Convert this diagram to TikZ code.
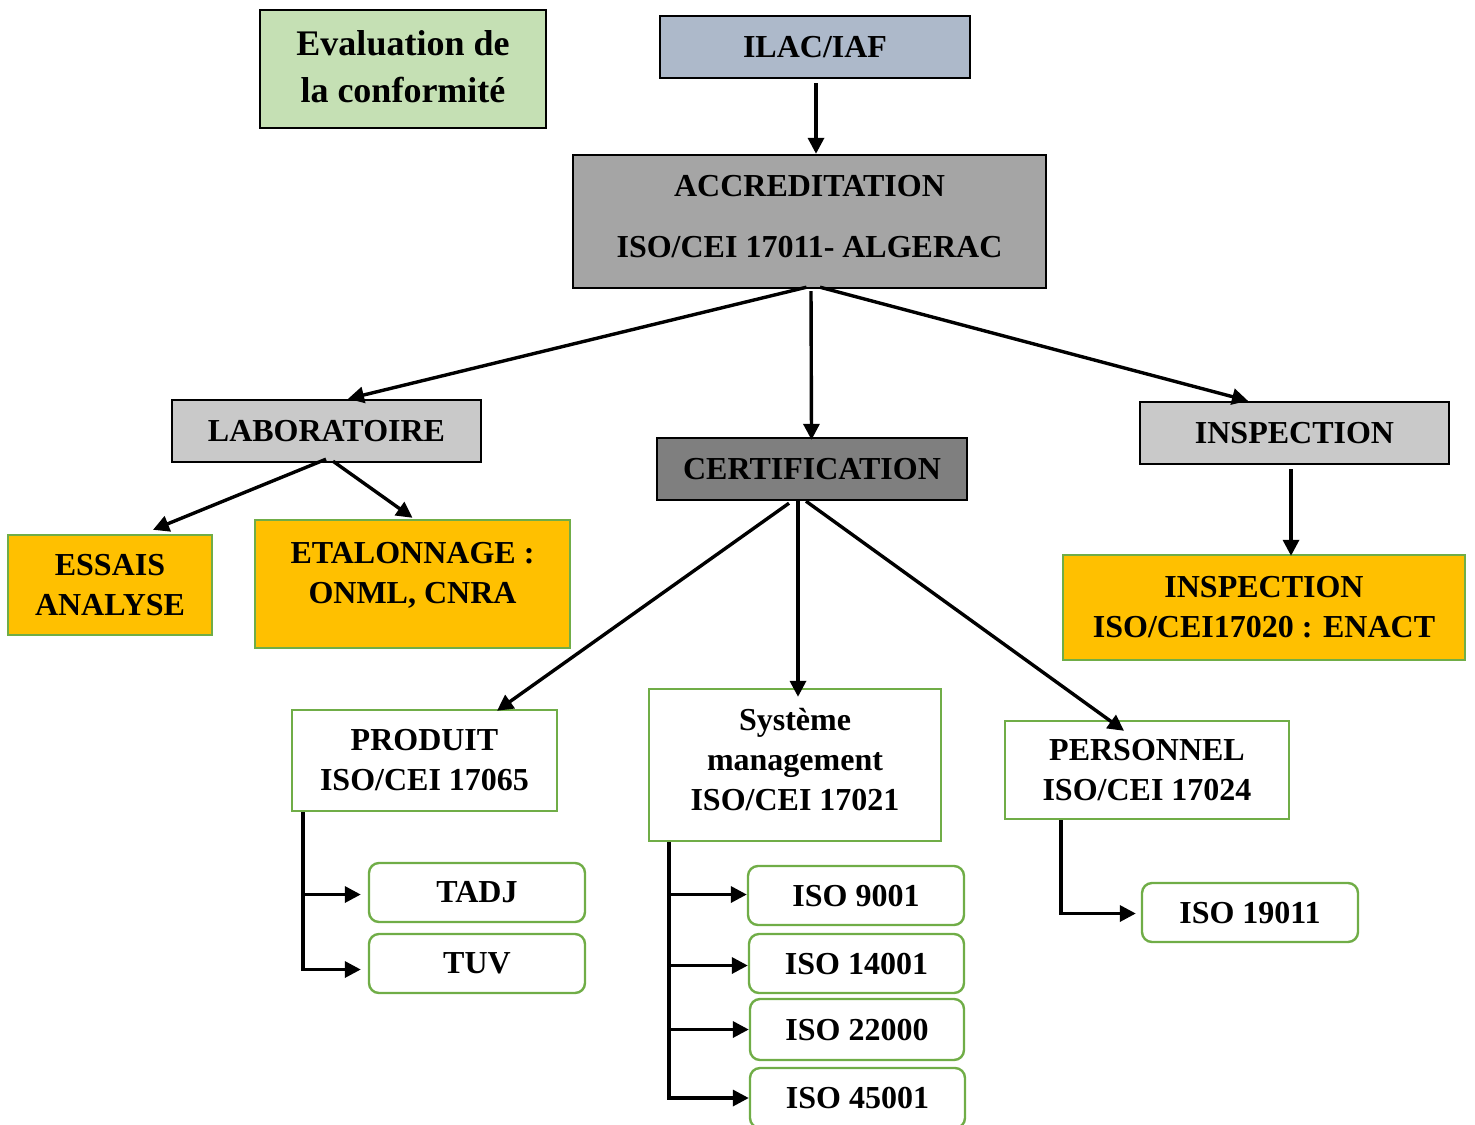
\documentclass[tikz,border=0pt]{standalone}
\usepackage{fontspec}
\setmainfont{Liberation Serif}
\usetikzlibrary{arrows.meta,calc}
\definecolor{evalgreen}{HTML}{C5E0B4}
\definecolor{ilacblue}{HTML}{ADB9CA}
\definecolor{accrgray}{HTML}{A5A5A5}
\definecolor{lightgray2}{HTML}{C9C9C9}
\definecolor{certgray}{HTML}{7F7F7F}
\definecolor{orangebox}{HTML}{FFC000}
\definecolor{greenline}{HTML}{70AD47}
\tikzset{
  base/.style={rectangle, inner sep=0pt, align=center, font=\bfseries\fontsize{16}{20}\selectfont},
  blackbox/.style={base, draw=black, line width=1.2pt},
  greenbox/.style={base, draw=greenline, line width=1.2pt},
  orangebx/.style={greenbox, fill=orangebox},
  roundbox/.style={greenbox, rounded corners=5pt},
  arr/.style={line width=1.7pt, -{Triangle[length=8pt,width=8pt]}},
}
\begin{document}
\begin{tikzpicture}[x=0.5pt,y=-0.5pt]
\useasboundingbox (0,0) rectangle (1475,1124);
% top boxes
\node[blackbox, fill=evalgreen, minimum width=143pt, minimum height=59pt] (eval) at (403,69) {};
\node[base, font=\bfseries\fontsize{18}{23.5}\selectfont] (evaltext) at (403,67) {Evaluation de\\la conformité};
\node[blackbox, fill=ilacblue, minimum width=155pt, minimum height=31pt] (ilac) at (815,47) {ILAC/IAF};
\node[blackbox, fill=accrgray, minimum width=236.5pt, minimum height=66.5pt] (accr) at (809.5,221.5) {};
\node[base] (accrtext) at (809.5,216.5) {ACCREDITATION\\[10.5pt]ISO/CEI 17011- ALGERAC};
% second level
\node[blackbox, fill=lightgray2, minimum width=154.5pt, minimum height=31pt] (lab) at (326.5,431) {LABORATOIRE};
\node[blackbox, fill=certgray, minimum width=155pt, minimum height=31pt] (cert) at (812,469) {CERTIFICATION};
\node[blackbox, fill=lightgray2, minimum width=154.5pt, minimum height=31pt] (insp) at (1294.5,433) {INSPECTION};
% orange boxes
\node[orangebx, minimum width=102pt, minimum height=50pt] (essais) at (110,585) {ESSAIS\\ANALYSE};
\node[orangebx, minimum width=157.5pt, minimum height=64pt] (etal) at (412.5,584) {};
\node[base] (etaltext) at (412.5,575) {ETALONNAGE :\\ONML, CNRA};
\node[orangebx, minimum width=201pt, minimum height=52.5pt] (inspiso) at (1264,607.5) {INSPECTION\\ISO/CEI17020 : ENACT};
% certification children
\node[greenbox, fill=white, minimum width=132.5pt, minimum height=50.5pt] (prod) at (424.5,760.5) {PRODUIT\\ISO/CEI 17065};
\node[greenbox, fill=white, minimum width=146pt, minimum height=76pt] (sys) at (795,765) {};
\node[base] (systext) at (795,760) {Système\\management\\ISO/CEI 17021};
\node[greenbox, fill=white, minimum width=142pt, minimum height=49pt] (pers) at (1147,770) {PERSONNEL\\ISO/CEI 17024};
% leaf boxes
\node[roundbox, minimum width=108pt, minimum height=29.5pt] (tadj) at (477,892.5) {TADJ};
\node[roundbox, minimum width=108pt, minimum height=29.5pt] (tuv) at (477,963.5) {TUV};
\node[roundbox, minimum width=108pt, minimum height=29.5pt] (iso9001) at (856,895.5) {ISO 9001};
\node[roundbox, minimum width=107.5pt, minimum height=29.5pt] (iso14001) at (856.5,963.5) {ISO 14001};
\node[roundbox, minimum width=107pt, minimum height=30.5pt] (iso22000) at (857,1029.5) {ISO 22000};
\node[roundbox, minimum width=107.5pt, minimum height=30pt] (iso45001) at (857.5,1098) {ISO 45001};
\node[roundbox, minimum width=108pt, minimum height=29.5pt] (iso19011) at (1250,912.5) {ISO 19011};
% connectors
\draw[arr] ($(ilac.south)+(1,4)$) -- ($(accr.north)+(6.5,0)$);
\draw[arr] ($(accr.south)+(-3,-2)$) -- ($(lab.north)+(21.5,0)$);
\draw[arr] ($(accr.south)+(1.5,2)$) -- ($(cert.north)+(-0.5,3)$);
\draw[arr] ($(accr.south)+(10.5,-2)$) -- ($(insp.north)+(-46.5,0)$);
\draw[arr] ($(lab.south)+(-0.5,-4)$) -- ($(essais.north)+(43,-4)$);
\draw[arr] ($(lab.south)+(6.5,-2)$) -- ($(etal.north)+(0,-1)$);
\draw[arr] ($(insp.south)+(-3.5,4)$) -- ($(inspiso.north)+(27,2)$);
\draw[arr] ($(cert.south)+(-23,2)$) -- ($(prod.north)+(72.5,2)$);
\draw[arr] ($(cert.south)+(-14,0)$) -- ($(sys.north)+(3,9)$);
\draw[arr] ($(cert.south)+(-6,0)$) -- ($(pers.north)+(-23,11)$);
% elbow connectors
\coordinate (prodfoot) at ($(prod.south west)+(12,0)$);
\draw[arr, shorten >=3.5pt] (prodfoot) |- ($(tadj.west)+(0,2)$);
\draw[arr, shorten >=3.5pt] (prodfoot) |- ($(tuv.west)+(0,6)$);
\coordinate (sysfoot) at ($(sys.south west)+(21,0)$);
\draw[arr] (sysfoot) |- ($(iso9001.west)+(0,-1)$);
\draw[arr] (sysfoot) |- ($(iso14001.west)+(0,2)$);
\draw[arr] (sysfoot) |- (iso22000.west);
\draw[arr] (sysfoot) |- (iso45001.west);
\coordinate (persfoot) at ($(pers.south west)+(57,0)$);
\draw[arr, shorten >=2.5pt] (persfoot) |- ($(iso19011.west)+(0,1)$);
\end{tikzpicture}
\end{document}
